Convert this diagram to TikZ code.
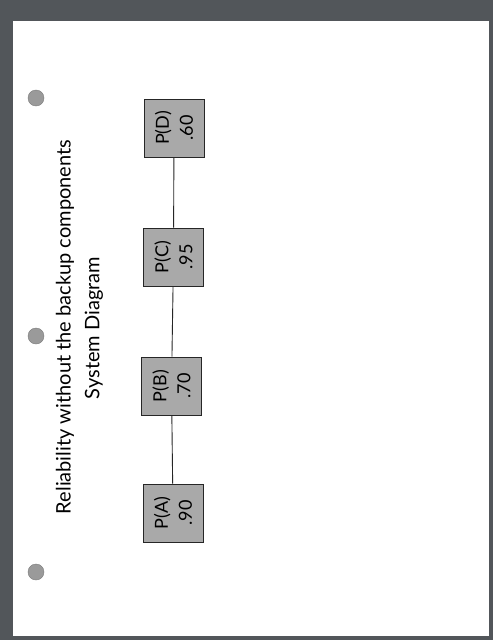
\documentclass[tikz,border=0pt]{standalone}
\usepackage{fontspec}
\setmainfont{Lato}
\definecolor{frame}{HTML}{52565A}
\definecolor{hole}{HTML}{9A9A9A}
\definecolor{boxfill}{HTML}{A9A9A9}
\begin{document}
\begin{tikzpicture}[x=1pt,y=-1pt,
  comp/.style={draw=black!85,line width=1pt,fill=boxfill,rotate=90,minimum width=58pt,minimum height=60pt,inner sep=0pt,align=center,font=\fontsize{18}{24}\selectfont},
  link/.style={draw=black!85,line width=0.9pt},
  holecirc/.style={fill=hole,draw=hole!80!black,line width=0.4pt}]
\useasboundingbox (0,0) rectangle (493,640);
\fill[frame] (0,0) rectangle (493,640);
\fill[white] (13,21) rectangle (489,636);
\fill[holecirc] (36,98) circle (8);
\fill[holecirc] (36,336) circle (8);
\fill[holecirc] (36,572) circle (8);
\node[rotate=90,font=\fontsize{20}{24}\selectfont] (t1) at (65,327) {Reliability without the backup components};
\node[rotate=90,font=\fontsize{20}{24}\selectfont] (t2) at (94,328) {System Diagram};
\node[comp] (D) at (174,128) {P(D)\\.60};
\node[comp] (C) at (173.5,257) {P(C)\\.95};
\node[comp] (B) at (171.5,386) {P(B)\\.70};
\node[comp] (A) at (173,513) {P(A)\\.90};
\draw[link] (D) -- (C);
\draw[link] (C) -- (B);
\draw[link] (B) -- (A);
\end{tikzpicture}
\end{document}
